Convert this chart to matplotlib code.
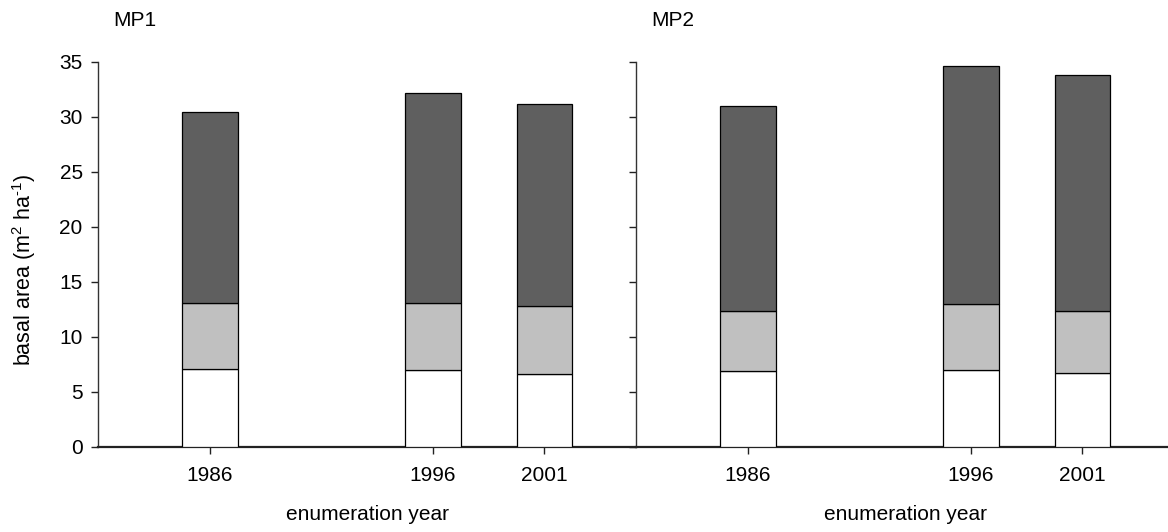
import matplotlib.pyplot as plt
import numpy as np

plt.rcParams['font.family'] = ['Liberation Sans', 'DejaVu Sans']
plt.rcParams['mathtext.fontset'] = 'custom'
plt.rcParams['mathtext.rm'] = 'Liberation Sans'

# enumeration years and basal area components (m2 ha-1)
years = [1986, 1996, 2001]
panels = ["MP1", "MP2"]
white_part = {"MP1": [7.1, 7.0, 6.65], "MP2": [6.9, 7.0, 6.7]}
grey_part = {"MP1": [6.0, 6.1, 6.1], "MP2": [5.4, 6.0, 5.6]}
dark_part = {"MP1": [17.3, 19.0, 18.4], "MP2": [18.65, 21.6, 21.5]}

fig = plt.figure(figsize=(11.68, 5.32), dpi=100)

W, H = 1168, 532
bottom = (H - 446.7) / H
height = (446.7 - 61.5) / H
lefts = [98, 636]
width = 538

for i, name in enumerate(panels):
    ax = fig.add_axes([lefts[i] / W, bottom, width / W, height])
    w = np.array(white_part[name])
    g = np.array(grey_part[name])
    d = np.array(dark_part[name])

    ax.bar(years, w, width=2.5, color="white", edgecolor="black", linewidth=0.9, zorder=3)
    ax.bar(years, g, width=2.5, bottom=w, color="#c0c0c0", edgecolor="black", linewidth=0.9, zorder=3)
    ax.bar(years, d, width=2.5, bottom=w + g, color="#5f5f5f", edgecolor="black", linewidth=0.9, zorder=3)

    ax.set_xlim(1981, 2005.1)
    ax.set_ylim(0, 35)
    ax.set_xticks(years)
    ax.set_xticklabels([str(y) for y in years])
    ax.set_yticks(np.arange(0, 36, 5))
    if i == 0:
        ax.set_ylabel(r"basal area (m$^{\mathrm{2}}$ ha$^{\text{-}\mathrm{1}}$)", fontsize=15.5)
        ax.yaxis.set_label_coords(-0.112, 0.46)
    else:
        ax.set_yticklabels([])

    for s in ["top", "right"]:
        ax.spines[s].set_visible(False)
    ax.spines["left"].set_linewidth(1.0)
    ax.spines["left"].set_color("#333333")
    ax.spines["bottom"].set_linewidth(1.6)
    ax.spines["bottom"].set_color("#222222")
    ax.tick_params(axis="both", direction="out", length=5, width=1.0,
                   labelsize=15, colors="#222222", labelcolor="black")
    ax.tick_params(axis="y", pad=6)
    ax.tick_params(axis="x", pad=9)

    cx = (lefts[i] + width / 2) / W
    fig.text(cx, 1 - 515 / H, "enumeration year", ha="center", va="center", fontsize=15)
    fig.text((lefts[i] + 15) / W, 1 - 20 / H, name, ha="left", va="center", fontsize=15)

fig.savefig("out.png", dpi=100)
